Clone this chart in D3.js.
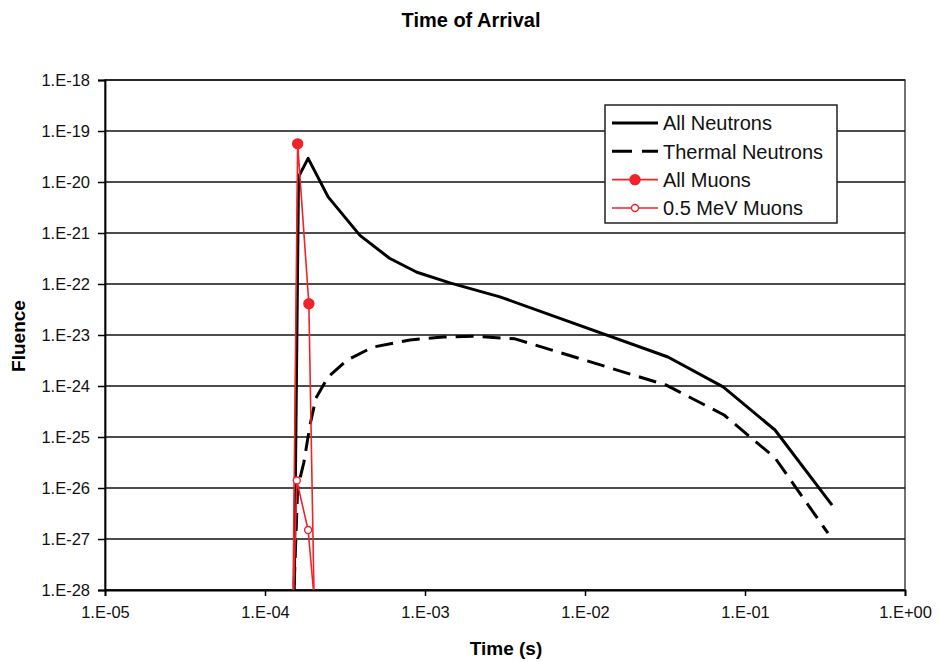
<!DOCTYPE html>
<html>
<head>
<meta charset="utf-8">
<script src="https://cdn.jsdelivr.net/npm/d3@7"></script>
<style>
  body { margin: 0; background: #fff; }
  svg { font-family: "Liberation Sans", Arial, sans-serif; }
</style>
</head>
<body>
<div id="chart"></div>
<script>
// values
const allNeutronsTime = [1.48e-4, 1.62e-4, 1.86e-4, 2.48e-4, 3.92e-4, 6.0e-4, 8.9e-4, 1.43e-3, 2.94e-3, 3.3e-2, 7.3e-2, 0.154, 0.35];
const allNeutronsFluence = [1.5e-32, 1.26e-20, 2.9e-20, 5.1e-21, 9.0e-22, 3.2e-22, 1.7e-22, 1.05e-22, 5.6e-23, 3.7e-24, 9.6e-25, 1.37e-25, 4.6e-27];

const thermalTime = [1.48e-4, 1.6e-4, 1.75e-4, 1.91e-4, 2.08e-4, 2.48e-4, 3.25e-4, 4.73e-4, 8.06e-4, 1.3e-3, 2.0e-3, 3.65e-3, 3.2e-2, 7.4e-2, 0.154, 0.33];
const thermalFluence = [1.1e-29, 1.0e-26, 3.2e-26, 1.7e-25, 5.8e-25, 1.5e-24, 3.2e-24, 5.8e-24, 8.0e-24, 9.1e-24, 9.5e-24, 8.4e-24, 1.05e-24, 2.7e-25, 3.9e-26, 1.3e-27];

const allMuonsTime = [1.48e-4, 1.6e-4, 1.88e-4, 2.1e-4];
const allMuonsFluence = [2e-30, 5.6e-20, 4.1e-23, 1.2e-31];

const muons05Time = [1.48e-4, 1.58e-4, 1.86e-4, 2.1e-4];
const muons05Fluence = [9e-30, 1.4e-26, 1.5e-27, 2e-29];

const xTicks = [1e-5, 1e-4, 1e-3, 1e-2, 1e-1, 1];
const yTicks = [1e-28, 1e-27, 1e-26, 1e-25, 1e-24, 1e-23, 1e-22, 1e-21, 1e-20, 1e-19, 1e-18];

const legendNames = ["All Neutrons", "Thermal Neutrons", "All Muons", "0.5 MeV Muons"];

const width = 939, height = 662;
const plotLeft = 105, plotRight = 905, plotTop = 80, plotBottom = 590;

const svg = d3.select('#chart')
  .append('svg')
  .attr('width', width)
  .attr('height', height);

const x = d3.scaleLog().domain([1e-5, 1]).range([plotLeft, plotRight]);
const y = d3.scaleLog().domain([1e-28, 1e-18]).range([plotBottom, plotTop]);

function sciLabel(v) {
  const p = Math.round(Math.log10(v));
  return "1.E" + (p < 0 ? "-" : "+") + String(Math.abs(p)).padStart(2, "0");
}

// plot frame
svg.append('rect')
  .attr('x', plotLeft).attr('y', plotTop)
  .attr('width', plotRight - plotLeft).attr('height', plotBottom - plotTop)
  .attr('fill', 'none').attr('stroke', '#444').attr('stroke-width', 1.5);

// gridlines
svg.append('g')
  .selectAll('line')
  .data(yTicks)
  .join('line')
  .attr('x1', plotLeft).attr('x2', plotRight)
  .attr('y1', d => y(d)).attr('y2', d => y(d))
  .attr('stroke', '#111').attr('stroke-width', 1.5);

// axes
const yAxis = svg.append('g')
  .attr('transform', `translate(${plotLeft},0)`)
  .call(d3.axisLeft(y).tickValues(yTicks).tickFormat(sciLabel).tickSize(7).tickPadding(8));
const xAxis = svg.append('g')
  .attr('transform', `translate(0,${plotBottom})`)
  .call(d3.axisBottom(x).tickValues(xTicks).tickFormat(sciLabel).tickSize(6).tickPadding(10));

[xAxis, yAxis].forEach(a => {
  a.select('.domain').attr('stroke', '#000').attr('stroke-width', 1.8);
  a.selectAll('.tick line').attr('stroke', '#000').attr('stroke-width', 1.5);
  a.selectAll('.tick text')
    .attr('font-size', 16.5)
    .attr('font-family', '"Liberation Sans", Arial, sans-serif')
    .attr('fill', '#111');
});

// clip for the series
svg.append('clipPath').attr('id', 'plot-clip')
  .append('rect')
  .attr('x', plotLeft).attr('y', plotTop)
  .attr('width', plotRight - plotLeft).attr('height', plotBottom - plotTop);

const plot = svg.append('g').attr('clip-path', 'url(#plot-clip)');

const line = d3.line()
  .x(d => x(d[0]))
  .y(d => y(d[1]));

const series = [
  { t: allNeutronsTime, f: allNeutronsFluence, color: '#000', width: 3, dash: null, marker: null },
  { t: thermalTime, f: thermalFluence, color: '#000', width: 3, dash: '18,9', marker: null },
  { t: allMuonsTime, f: allMuonsFluence, color: '#f0222a', width: 1.6, dash: null, marker: 'filled' },
  { t: muons05Time, f: muons05Fluence, color: '#f0222a', width: 1.6, dash: null, marker: 'open' }
];

series.forEach(s => {
  const pts = s.t.map((t, i) => [t, s.f[i]]);
  plot.append('path')
    .datum(pts)
    .attr('d', line)
    .attr('fill', 'none')
    .attr('stroke', s.color)
    .attr('stroke-width', s.width)
    .attr('stroke-dasharray', s.dash)
    .attr('stroke-linejoin', 'round');

  if (s.marker) {
    plot.selectAll(null)
      .data(pts)
      .join('circle')
      .attr('cx', d => x(d[0]))
      .attr('cy', d => y(d[1]))
      .attr('r', s.marker === 'filled' ? 5 : 3.5)
      .attr('fill', s.marker === 'filled' ? s.color : '#fff')
      .attr('stroke', s.color)
      .attr('stroke-width', 1.4);
  }
});

// legend
const legend = svg.append('g');
legend.append('rect')
  .attr('x', 605).attr('y', 105)
  .attr('width', 232).attr('height', 118)
  .attr('fill', '#fff').attr('stroke', '#222').attr('stroke-width', 1.5);

const rowY = d3.scalePoint().domain(legendNames).range([123, 208]);

legendNames.forEach((name, i) => {
  const s = series[i];
  const g = legend.append('g').attr('transform', `translate(0,${rowY(name)})`);
  g.append('line')
    .attr('x1', 612).attr('x2', 658)
    .attr('stroke', s.color)
    .attr('stroke-width', s.width)
    .attr('stroke-dasharray', s.dash ? '20,10' : null);
  if (s.marker) {
    g.append('circle')
      .attr('cx', 635).attr('cy', 0)
      .attr('r', s.marker === 'filled' ? 5 : 3.5)
      .attr('fill', s.marker === 'filled' ? s.color : '#fff')
      .attr('stroke', s.color).attr('stroke-width', 1.4);
  }
  g.append('text')
    .attr('x', 663).attr('y', 0)
    .attr('dy', '0.36em')
    .attr('font-size', 20)
    .attr('fill', '#111')
    .text(name);
});

// titles
svg.append('text')
  .attr('x', 471).attr('y', 27)
  .attr('text-anchor', 'middle')
  .attr('font-size', 20).attr('font-weight', 'bold')
  .text('Time of Arrival');

svg.append('text')
  .attr('x', 506).attr('y', 655)
  .attr('text-anchor', 'middle')
  .attr('font-size', 19).attr('font-weight', 'bold')
  .text('Time (s)');

svg.append('text')
  .attr('transform', 'translate(25,336) rotate(-90)')
  .attr('text-anchor', 'middle')
  .attr('font-size', 19).attr('font-weight', 'bold')
  .text('Fluence');
</script>
</body>
</html>
